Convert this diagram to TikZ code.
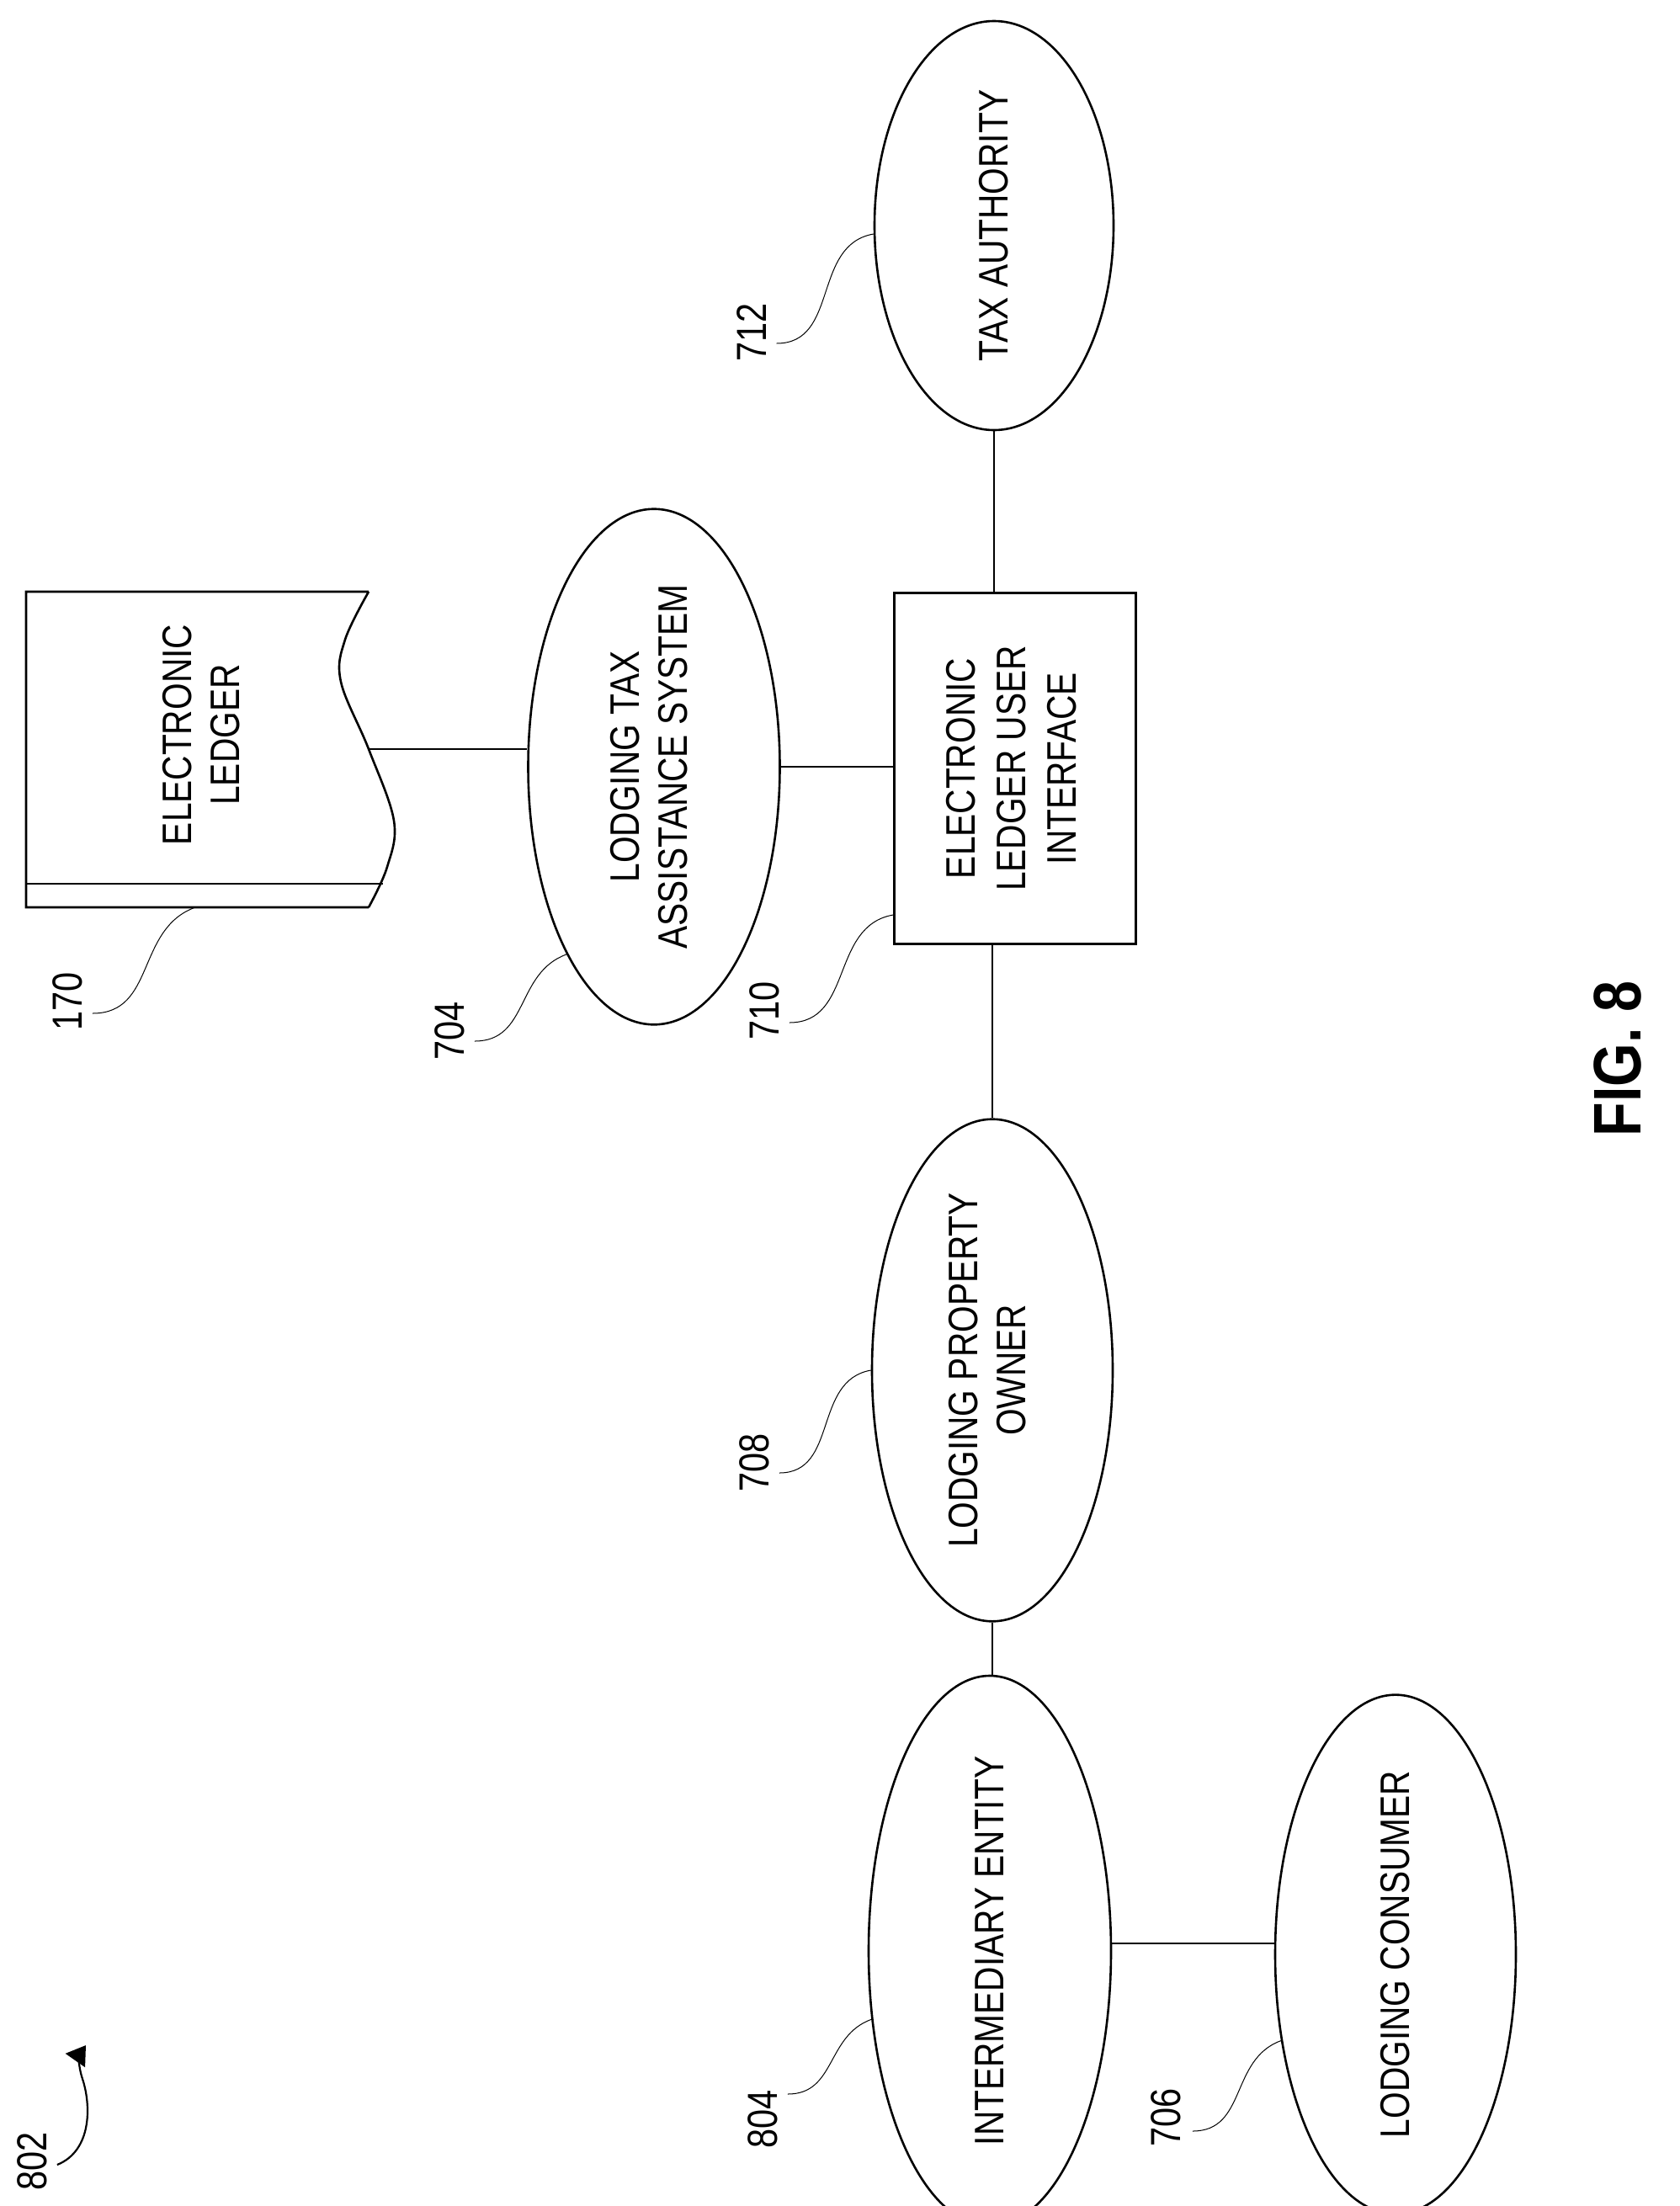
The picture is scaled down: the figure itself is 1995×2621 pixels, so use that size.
\documentclass[tikz,border=0pt]{standalone}
\usepackage{fontspec}
\setmainfont{Liberation Sans}[FakeStretch=0.83]
\usetikzlibrary{shapes.geometric,arrows.meta}
\begin{document}
\begin{tikzpicture}[x=1pt,y=-1pt,
  ln/.style={line width=2.6pt},
  ell/.style={ellipse,draw,line width=2.6pt,inner sep=0pt,font=\fontsize{49}{57}\selectfont},
  lbl/.style={inner sep=0pt,font=\fontsize{50}{57}\selectfont},
  lead/.style={line width=1pt},
]
\useasboundingbox (0,0) rectangle (1995,2621);
% electronic ledger (document shape)
\draw[ln] (438,1078) -- (31,1078) -- (31,703) -- (438,703)
  plot[smooth,tension=0.6] coordinates {(438,703) (410,760) (405,810) (438,890) (468,975) (460,1030) (438,1078)};
\draw[ln] (31,1050) -- (455,1050);
\coordinate (ledgerE) at (438,890);
\coordinate (ledgerB) at (232,1078);
\node[font=\fontsize{49}{57}\selectfont] (ledgerT) at (245,873) {\rotatebox{90}{\begin{tabular}{@{}c@{}}ELECTRONIC\\LEDGER\end{tabular}}};
% nodes
\node[ell,minimum width=284pt,minimum height=486pt] (tax) at (1181,268) {\rotatebox{90}{TAX AUTHORITY}};
\node[ell,minimum width=299pt,minimum height=498pt] (ltas) at (777,911) {\rotatebox{90}{\begin{tabular}{@{}c@{}}LODGING TAX\\ASSISTANCE SYSTEM\end{tabular}}};
\node[draw,line width=2.6pt,inner sep=0pt,minimum width=287pt,minimum height=417pt,font=\fontsize{49}{60}\selectfont] (box) at (1206,913) {\rotatebox{90}{\begin{tabular}{@{}c@{}}ELECTRONIC\\LEDGER USER\\INTERFACE\end{tabular}}};
\node[ell,minimum width=286pt,minimum height=484pt] (lpo) at (1179,1628) {\rotatebox{90}{\begin{tabular}{@{}c@{}}LODGING PROPERTY\\OWNER\end{tabular}}};
\node[ell,minimum width=288pt,minimum height=530pt] (ie) at (1176,2318) {\rotatebox{90}{INTERMEDIARY ENTITY}};
\node[ell,minimum width=286pt,minimum height=518pt] (lc) at (1658,2322) {\rotatebox{90}{LODGING CONSUMER}};
% connectors
\draw[ln] (ledgerE) -- (ltas.west |- ledgerE);
\draw[ln] (ltas.east) -- (box.west |- ltas.east);
\draw[ln] (box.north -| tax.south) -- (tax.south);
\draw[ln] (box.south -| lpo.north) -- (lpo.north);
\draw[ln] (lpo.south) -- (lpo.south |- ie.north);
\draw[ln] (ie.east |- 0,2309) -- (lc.west |- 0,2309);
% labels
\node[lbl] (l712) at (893,395) {\rotatebox{90}{712}};
\node[lbl] (l170) at (80,1190) {\rotatebox{90}{170}};
\node[lbl] (l704) at (534,1225) {\rotatebox{90}{704}};
\node[lbl] (l710) at (908,1201) {\rotatebox{90}{710}};
\node[lbl] (l708) at (896,1738) {\rotatebox{90}{708}};
\node[lbl] (l804) at (906,2518) {\rotatebox{90}{804}};
\node[lbl] (l706) at (1385,2516) {\rotatebox{90}{706}};
\node[lbl] (l802) at (38,2568) {\rotatebox{90}{802}};
\node[inner sep=0pt,font=\fontsize{80}{90}\selectfont\bfseries] (fig) at (1922,1258) {\rotatebox{90}{FIG. 8}};
% leaders
\draw[lead] ([xshift=12pt,yshift=-13pt]l712.east) to[out=0,in=190,looseness=1.1] (tax.184);
\draw[lead] ([xshift=12pt,yshift=-14pt]l170.east) to[out=0,in=200,looseness=1.1] (ledgerB);
\draw[lead] ([xshift=12pt,yshift=-12pt]l704.east) to[out=0,in=200,looseness=1.1] (ltas.245);
\draw[lead] ([xshift=12pt,yshift=-14pt]l710.east) to[out=0,in=190,looseness=1.1] ([yshift=-174pt]box.west);
\draw[lead] ([xshift=12pt,yshift=-12pt]l708.east) to[out=0,in=190,looseness=1.1] (lpo.west);
\draw[lead] ([xshift=12pt,yshift=30pt]l804.east) to[out=0,in=200,looseness=1.1] (ie.210);
\draw[lead] ([xshift=14pt,yshift=-16pt]l706.east) to[out=0,in=200,looseness=1.1] (lc.217);
\coordinate (a802) at (102,2430);
\draw[line width=2.2pt,-{Triangle[length=22pt,width=28pt]}] ([xshift=12pt,yshift=-4pt]l802.east) .. controls (110,2555) and (108,2500) .. (98,2470) .. controls (92,2452) and (95,2440) .. (a802);
\end{tikzpicture}
\end{document}
